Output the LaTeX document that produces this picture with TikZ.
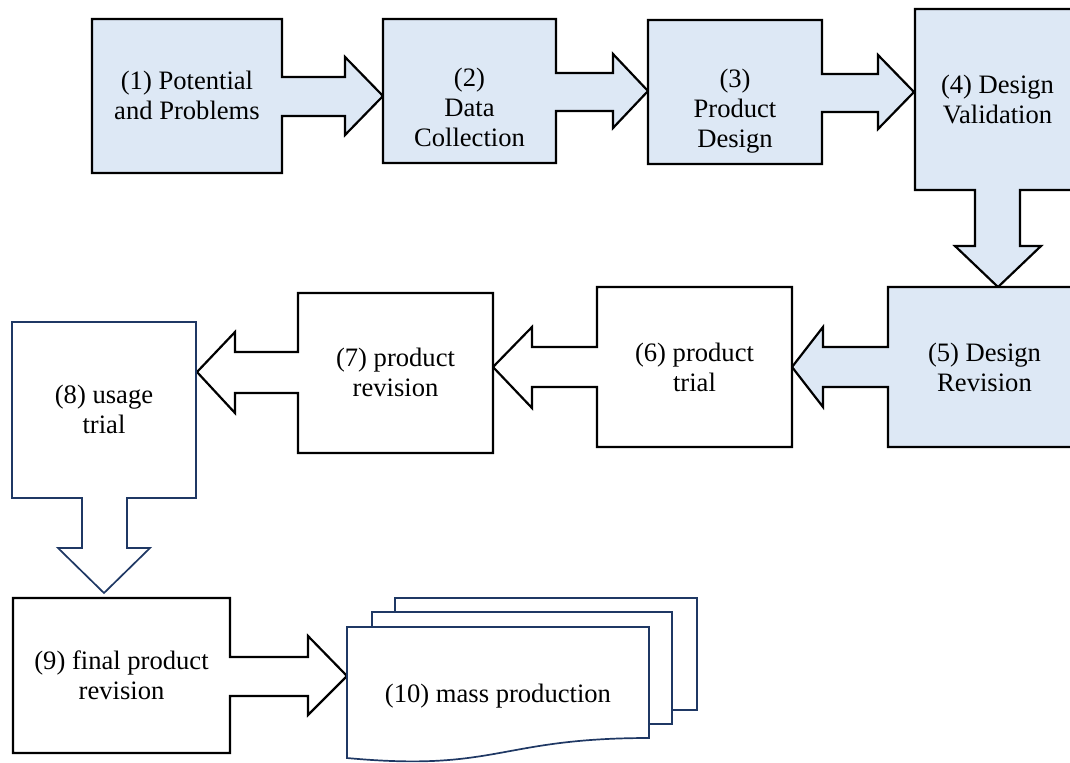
\documentclass[tikz,border=0pt]{standalone}
\usepackage{fontspec}
\setmainfont{Liberation Serif}
\definecolor{stagefill}{HTML}{DDE8F5}
\definecolor{navyline}{HTML}{1F3864}
\begin{document}
\begin{tikzpicture}[x=0.5pt,y=-0.5pt,
  blueshape/.style={draw=black,line width=1.1pt,fill=stagefill},
  plainshape/.style={draw=black,line width=1.1pt,fill=white},
  navyshape/.style={draw=navyline,line width=0.85pt,fill=white},
  stagetext/.style={align=center,inner sep=0pt,font=\fontsize{13.3pt}{15pt}\selectfont}]
\useasboundingbox (0,0) rectangle (1070,762);
\clip (0,0) rectangle (1070,762);

% (1) box with right arrow
\draw[blueshape] (92,19) -- (282,19) -- (282,77) -- (345,77) -- (345,57) -- (383,96)
  -- (345,135) -- (345,116) -- (282,116) -- (282,173) -- (92,173) -- cycle;
% (2)
\draw[blueshape] (383,19) -- (556,19) -- (556,73) -- (613,73) -- (613,54) -- (648,91)
  -- (613,128) -- (613,111) -- (556,111) -- (556,163) -- (383,163) -- cycle;
% (3)
\draw[blueshape] (648,20) -- (822,20) -- (822,74) -- (878,74) -- (878,55) -- (914,92)
  -- (878,129) -- (878,112) -- (822,112) -- (822,164) -- (648,164) -- cycle;
% (4) box with down arrow
\draw[blueshape] (915,9) -- (1080,9) -- (1080,190) -- (1020,190) -- (1020,246) -- (1041,246)
  -- (998,287) -- (955,246) -- (975,246) -- (975,190) -- (915,190) -- cycle;
% (5) box with left arrow
\draw[blueshape] (888,287) -- (1080,287) -- (1080,447) -- (888,447) -- (888,387) -- (823,387)
  -- (823,407) -- (792,367) -- (823,327) -- (823,347) -- (888,347) -- cycle;
% (6)
\draw[plainshape] (597,287) -- (792,287) -- (792,447) -- (597,447) -- (597,387) -- (532,387)
  -- (532,408) -- (493,367) -- (532,327) -- (532,347) -- (597,347) -- cycle;
% (7)
\draw[plainshape] (298,293) -- (493,293) -- (493,453) -- (298,453) -- (298,393) -- (235,393)
  -- (235,413) -- (197,372) -- (235,332) -- (235,352) -- (298,352) -- cycle;
% (8) box with down arrow
\draw[navyshape] (12,322) -- (196,322) -- (196,498) -- (127,498) -- (127,548) -- (150,548)
  -- (104,593) -- (58,548) -- (82,548) -- (82,498) -- (12,498) -- cycle;
% (9) box with right arrow
\draw[plainshape] (13,598) -- (230,598) -- (230,657) -- (308,657) -- (308,636) -- (347,676)
  -- (308,715) -- (308,696) -- (230,696) -- (230,753) -- (13,753) -- cycle;
% (10) stacked documents
\draw[navyshape] (395,598) rectangle (697,710);
\draw[navyshape] (372,612) rectangle (672,724);
\draw[navyshape] (347,627) -- (649,627) -- (649,738)
  .. controls (498,738) and (498,772) .. (347,758) -- cycle;

% stage labels
\node[stagetext] (t1) at (187,98) {\strut(1) Potential\\and Problems\strut};
\node[stagetext] (t2) at (469.5,110) {\strut(2)\\Data\\Collection\strut};
\node[stagetext] (t3) at (735,111) {\strut(3)\\Product\\Design\strut};
\node[stagetext] (t4) at (997.5,102.5) {\strut(4) Design\\Validation\strut};
\node[stagetext] (t5) at (984.5,370.5) {\strut(5) Design\\Revision\strut};
\node[stagetext] (t6) at (694.5,370) {\strut(6) product\\trial\strut};
\node[stagetext] (t7) at (395.5,375) {\strut(7) product\\revision\strut};
\node[stagetext] (t8) at (104,412) {\strut(8) usage\\trial\strut};
\node[stagetext] (t9) at (121.5,678) {\strut(9) final product\\revision\strut};
\node[stagetext] (t10) at (498,696) {\strut(10) mass production};
\end{tikzpicture}
\end{document}
